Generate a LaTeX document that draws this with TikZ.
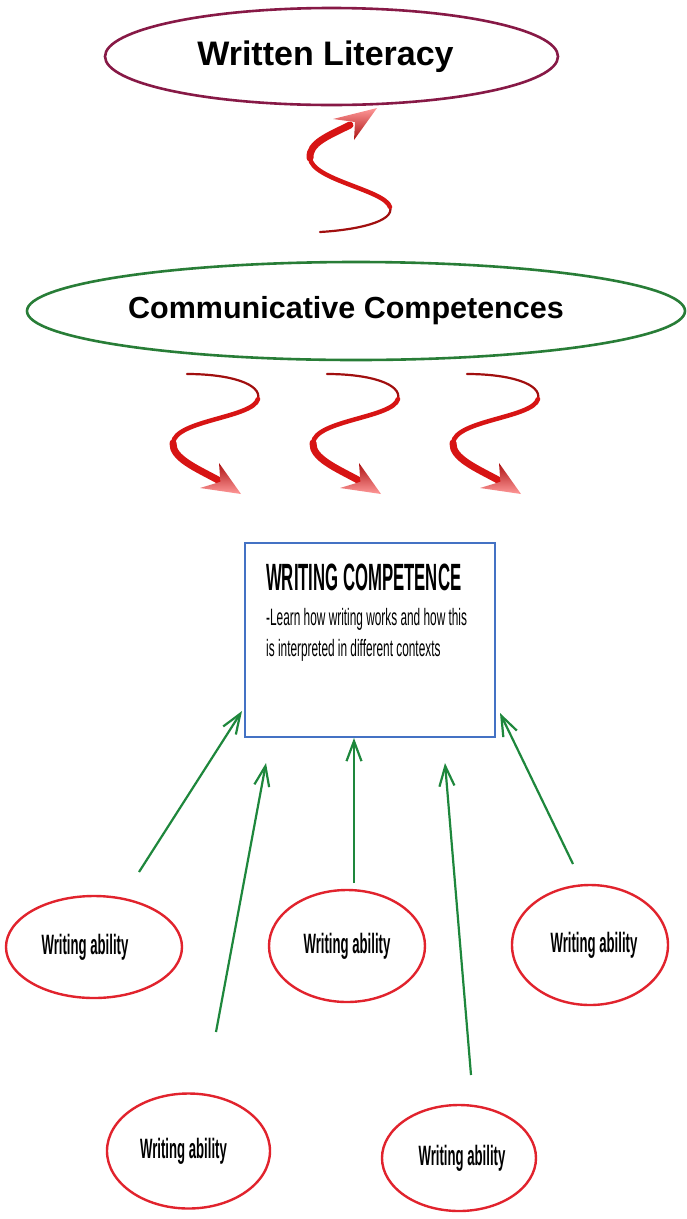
\documentclass[tikz,border=0pt]{standalone}
\usepackage{fontspec}
\setmainfont{Liberation Sans}
\newfontfamily\titlenarrow[FakeStretch=0.44]{Liberation Sans}
\newfontfamily\bodynarrow[FakeStretch=0.5]{Liberation Sans}
\newfontfamily\abilitynarrow[FakeStretch=0.47]{Liberation Sans}
\usetikzlibrary{shapes.geometric,arrows.meta}
\definecolor{maroon}{RGB}{135,25,70}
\definecolor{ellgreen}{RGB}{40,125,55}
\definecolor{arrgreen}{RGB}{30,135,60}
\definecolor{ellred}{RGB}{225,35,45}
\definecolor{curlred}{RGB}{215,20,20}
\definecolor{boxblue}{RGB}{68,114,196}
\tikzset{
  bigell/.style={ellipse, draw, line width=2.6pt, inner sep=0pt, font=\bfseries},
  abil/.style={ellipse, draw=ellred, line width=2.4pt, inner sep=0pt,
    font=\abilitynarrow\bfseries\fontsize{28}{32}\selectfont},
  garrow/.style={draw=arrgreen, line width=2.2pt,
    -{Straight Barb[length=20pt,width=15pt]}},
  shaftA/.style={draw=curlred!75!black, line width=2.2pt, line cap=round},
  shaftB/.style={draw=curlred, line width=4.5pt, line cap=round},
  shaftC/.style={draw=curlred, line width=7pt, line cap=round},
  downcurl/.pic={
    \draw[shaftA] (0,0) .. controls (43,0) and (75,10) .. (71,25);
    \draw[shaftB] (71,25) .. controls (66,44) and (-12,46) .. (-14,69);
    \draw[shaftC] (-14,69) .. controls (-15,84) and (9,94) .. (31,106);
    \shade[top color=curlred!80!black, bottom color=red!40]
      (54,120) -- (13,114) -- (33.4,107.8) -- (32,89) -- cycle;
  }
}
\begin{document}
\begin{tikzpicture}[x=1pt,y=-1pt]
\useasboundingbox[fill=white] (0,0) rectangle (687,1219);

% top ellipse
\node[bigell, draw=maroon, minimum width=453pt, minimum height=97pt,
  font=\bfseries\fontsize{34}{40}\selectfont] (wl) at (331.5,56.5) {Written Literacy\kern12pt};

% upward curly arrow
\draw[shaftA] (320,232) .. controls (355,230) and (395,222) .. (390,207);
\draw[shaftB] (390,207) .. controls (385,190) and (312,180) .. (310,158);
\draw[shaftC] (310,158) .. controls (309,143) and (328,136) .. (350,125);
\shade[bottom color=curlred!80!black, top color=red!40]
  (377,108) -- (333,119) -- (355,122) -- (354,140) -- cycle;

% communicative ellipse
\node[bigell, draw=ellgreen, minimum width=658pt, minimum height=98pt,
  font=\bfseries\fontsize{30.5}{36}\selectfont] (cc) at (356,311) {Communicative Competences\kern20pt};

% three downward curly arrows
\pic at (187,374) {downcurl};
\pic at (327,374) {downcurl};
\pic at (467,374) {downcurl};

% writing competence box
\node[draw=boxblue, line width=2.4pt, minimum width=250pt, minimum height=194pt,
  inner sep=0pt] (wc) at (370,640) {};
\node[anchor=base west, inner sep=0pt, font=\titlenarrow\bfseries\fontsize{38}{40}\selectfont]
  (wctitle) at (266,590) {WRITING COMPETENCE};
\node[anchor=base west, inner sep=0pt, font=\bodynarrow\fontsize{23.7}{26}\selectfont]
  (wcl1) at (266,625) {-Learn how writing works and how this};
\node[anchor=base west, inner sep=0pt, font=\bodynarrow\fontsize{23.7}{26}\selectfont]
  (wcl2) at (266,656) {is interpreted in different contexts};

% writing ability ellipses
\node[abil, minimum width=176pt, minimum height=102pt] (a1) at (94,947) {Writing ability\kern18pt};
\node[abil, minimum width=156pt, minimum height=112pt] (a2) at (347,946) {Writing ability};
\node[abil, minimum width=156pt, minimum height=120pt] (a3) at (590,945) {\kern8pt Writing ability};
\node[abil, minimum width=163pt, minimum height=115pt] (a4) at (188.5,1151) {Writing ability\kern10pt};
\node[abil, minimum width=154pt, minimum height=106pt] (a5) at (459,1158) {\kern6pt Writing ability};

% green arrow end points
\coordinate (s1) at (139,872);
\coordinate (t1) at (242,711);
\coordinate (s2) at (216,1032);
\coordinate (t2) at (266,763);
\coordinate (s3) at (354,883);
\coordinate (t3) at (354,738);
\coordinate (s4) at (471,1075);
\coordinate (t4) at (445,763);
\coordinate (s5) at (573,864);
\coordinate (t5) at (500,713);

\draw[garrow] (s1) -- (t1);
\draw[garrow] (s2) -- (t2);
\draw[garrow] (s3) -- (t3);
\draw[garrow] (s4) -- (t4);
\draw[garrow] (s5) -- (t5);
\end{tikzpicture}
\end{document}
